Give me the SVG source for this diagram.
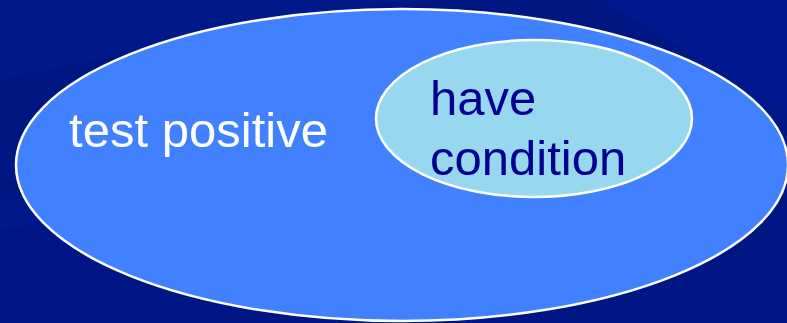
<svg xmlns="http://www.w3.org/2000/svg" width="787" height="323" viewBox="0 0 787 323">
<style>
.ell{stroke:#ffffff;stroke-width:2.5}
.lbl{font-family:"Liberation Sans",Arial,sans-serif;font-size:49px}
</style>
<g id="background">
<rect x="0" y="0" width="787" height="323" fill="#001888"/>
<polygon points="0,80 400,0 787,0 787,40 0,200" fill="#00137c" opacity="0.5"/>
<polygon points="0,230 787,120 787,323 0,323" fill="#001580" opacity="0.4"/>
<polygon points="600,0 787,0 787,110" fill="#001a96" opacity="0.6"/>
</g>
<g id="test-positive">
<ellipse class="ell" cx="402" cy="165" rx="386" ry="156" fill="#4181ff"/>
<text class="lbl" x="69" y="147" fill="#ffffff" textLength="259">test positive</text>
</g>
<g id="have-condition">
<ellipse class="ell" cx="534" cy="118.5" rx="158" ry="78.5" fill="#97d8f0"/>
<text class="lbl" fill="#000090"><tspan x="430" y="115">have</tspan><tspan x="430" y="175">condition</tspan></text>
</g>
<g id="connectors"/>
</svg>
